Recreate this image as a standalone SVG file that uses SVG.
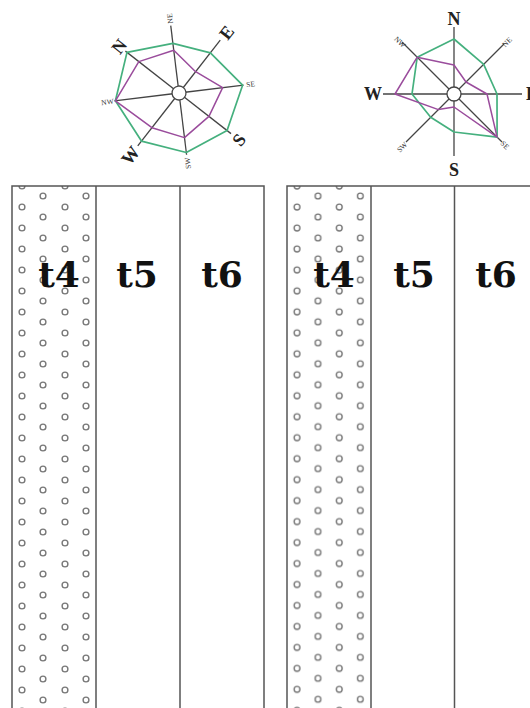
<svg xmlns="http://www.w3.org/2000/svg" width="530" height="708" viewBox="0 0 530 708">
  <style>
    .spoke{stroke:#444;stroke-width:1.3;fill:none}
    .hub{fill:#fff;stroke:#444;stroke-width:1.3}
    .green{fill:none;stroke:#45b07e;stroke-width:1.7;stroke-linejoin:round}
    .purple{fill:none;stroke:#9a4c9c;stroke-width:1.5;stroke-linejoin:round}
    .big{font-family:"Liberation Serif","DejaVu Serif",serif;font-weight:bold;font-size:18px;fill:#222;text-anchor:middle}
    .small{font-family:"Liberation Serif","DejaVu Serif",serif;font-size:7.5px;fill:#333;text-anchor:middle}
    .panel{fill:none;stroke:#555;stroke-width:1.5}
    .dot{fill:none;stroke:#777;stroke-width:1.4}
    .lbl{font-family:"DejaVu Serif","Liberation Serif",serif;font-weight:bold;font-size:36px;fill:#111;text-anchor:middle}
  </style>
  <defs>
    <pattern id="dotsL" patternUnits="userSpaceOnUse" x="11" y="191" width="43" height="21">
      <circle class="dot" cx="11" cy="16" r="2.9"/>
      <circle class="dot" cx="32" cy="5" r="2.9"/>
    </pattern>
    <pattern id="dotsR" patternUnits="userSpaceOnUse" x="286" y="191" width="42.3" height="20.97">
      <circle class="dot" cx="11" cy="16" r="2.9"/>
      <circle class="dot" cx="32" cy="5" r="2.9"/>
    </pattern>
  </defs>
  <rect width="530" height="708" fill="#fff"/>

  <!-- Left compass rose (rotated) -->
  <g id="rose-left" transform="translate(179,93) rotate(-52)">
    <g class="spokes">
      <line class="spoke" x1="0" y1="0" x2="0" y2="-68"/>
      <line class="spoke" x1="0" y1="0" x2="0" y2="66"/>
      <line class="spoke" x1="0" y1="0" x2="67" y2="0"/>
      <line class="spoke" x1="0" y1="0" x2="-67" y2="0"/>
      <line class="spoke" x1="0" y1="0" x2="48" y2="-48"/>
      <line class="spoke" x1="0" y1="0" x2="-46" y2="-46"/>
      <line class="spoke" x1="0" y1="0" x2="46" y2="46"/>
      <line class="spoke" x1="0" y1="0" x2="-44" y2="44"/>
    </g>
    <polygon class="green" points="0,-66 35.4,-35.4 51,0 45.3,45.3 0,61 -42.4,42.4 -61,0 -45.3,-45.3"/>
    <polygon class="purple" points="0,-51 30.4,-30.4 27,0 31.1,31.1 0,38 -31.8,31.8 -44,0 -45.3,-45.3"/>
    <circle class="hub" cx="0" cy="0" r="7"/>
    <text class="big" x="0" y="-76" dy="0.35em">N</text>
    <text class="big" x="77" y="0" dy="0.35em">E</text>
    <text class="big" x="0" y="76" dy="0.35em">S</text>
    <text class="big" x="-79" y="0" dy="0.35em">W</text>
    <text class="small" transform="translate(53,-53) rotate(-45)" dy="0.35em">NE</text>
    <text class="small" transform="translate(-51,-51) rotate(45)" dy="0.35em">NW</text>
    <text class="small" transform="translate(51,51) rotate(45)" dy="0.35em">SE</text>
    <text class="small" transform="translate(-50,50) rotate(-45)" dy="0.35em">SW</text>
  </g>

  <!-- Right compass rose -->
  <g id="rose-right" transform="translate(454,94)">
    <g class="spokes">
      <line class="spoke" x1="0" y1="0" x2="0" y2="-67"/>
      <line class="spoke" x1="0" y1="0" x2="0" y2="62"/>
      <line class="spoke" x1="0" y1="0" x2="68" y2="0"/>
      <line class="spoke" x1="0" y1="0" x2="-71" y2="0"/>
      <line class="spoke" x1="0" y1="0" x2="50" y2="-50"/>
      <line class="spoke" x1="0" y1="0" x2="-52" y2="-52"/>
      <line class="spoke" x1="0" y1="0" x2="48" y2="48"/>
      <line class="spoke" x1="0" y1="0" x2="-48" y2="48"/>
    </g>
    <polygon class="green" points="0,-55 29.7,-29.7 43,0 43.1,43.1 0,38 -23.3,23.3 -42,0 -36.8,-36.8"/>
    <polygon class="purple" points="0,-29 12,-12 33,0 43.1,43.1 0,13 -15.6,15.6 -59,0 -36.8,-36.8"/>
    <circle class="hub" cx="0" cy="0" r="7"/>
    <text class="big" x="0" y="-75" dy="0.35em">N</text>
    <text class="big" x="78" y="0" dy="0.35em">E</text>
    <text class="big" x="0" y="76" dy="0.35em">S</text>
    <text class="big" x="-81" y="0" dy="0.35em">W</text>
    <text class="small" transform="translate(53,-52) rotate(-45)" dy="0.35em">NE</text>
    <text class="small" transform="translate(-54,-52) rotate(45)" dy="0.35em">NW</text>
    <text class="small" transform="translate(51,51) rotate(45)" dy="0.35em">SE</text>
    <text class="small" transform="translate(-52,53) rotate(-45)" dy="0.35em">SW</text>
  </g>

  <!-- Left panel -->
  <g id="panel-left">
    <rect x="12" y="186" width="84" height="540" fill="url(#dotsL)"/>
    <rect class="panel" x="12" y="186" width="252" height="540"/>
    <line class="panel" x1="96" y1="186" x2="96" y2="726"/>
    <line class="panel" x1="180" y1="186" x2="180" y2="726"/>
    <text class="lbl" x="59" y="287">t4</text>
    <text class="lbl" x="137" y="287">t5</text>
    <text class="lbl" x="222" y="287">t6</text>
  </g>

  <!-- Right panel -->
  <g id="panel-right">
    <rect x="287" y="186" width="84" height="540" fill="url(#dotsR)"/>
    <rect class="panel" x="287" y="186" width="252" height="540"/>
    <line class="panel" x1="371" y1="186" x2="371" y2="726"/>
    <line class="panel" x1="454.5" y1="186" x2="454.5" y2="726"/>
    <text class="lbl" x="334" y="287">t4</text>
    <text class="lbl" x="414" y="287">t5</text>
    <text class="lbl" x="496" y="287">t6</text>
  </g>
</svg>
